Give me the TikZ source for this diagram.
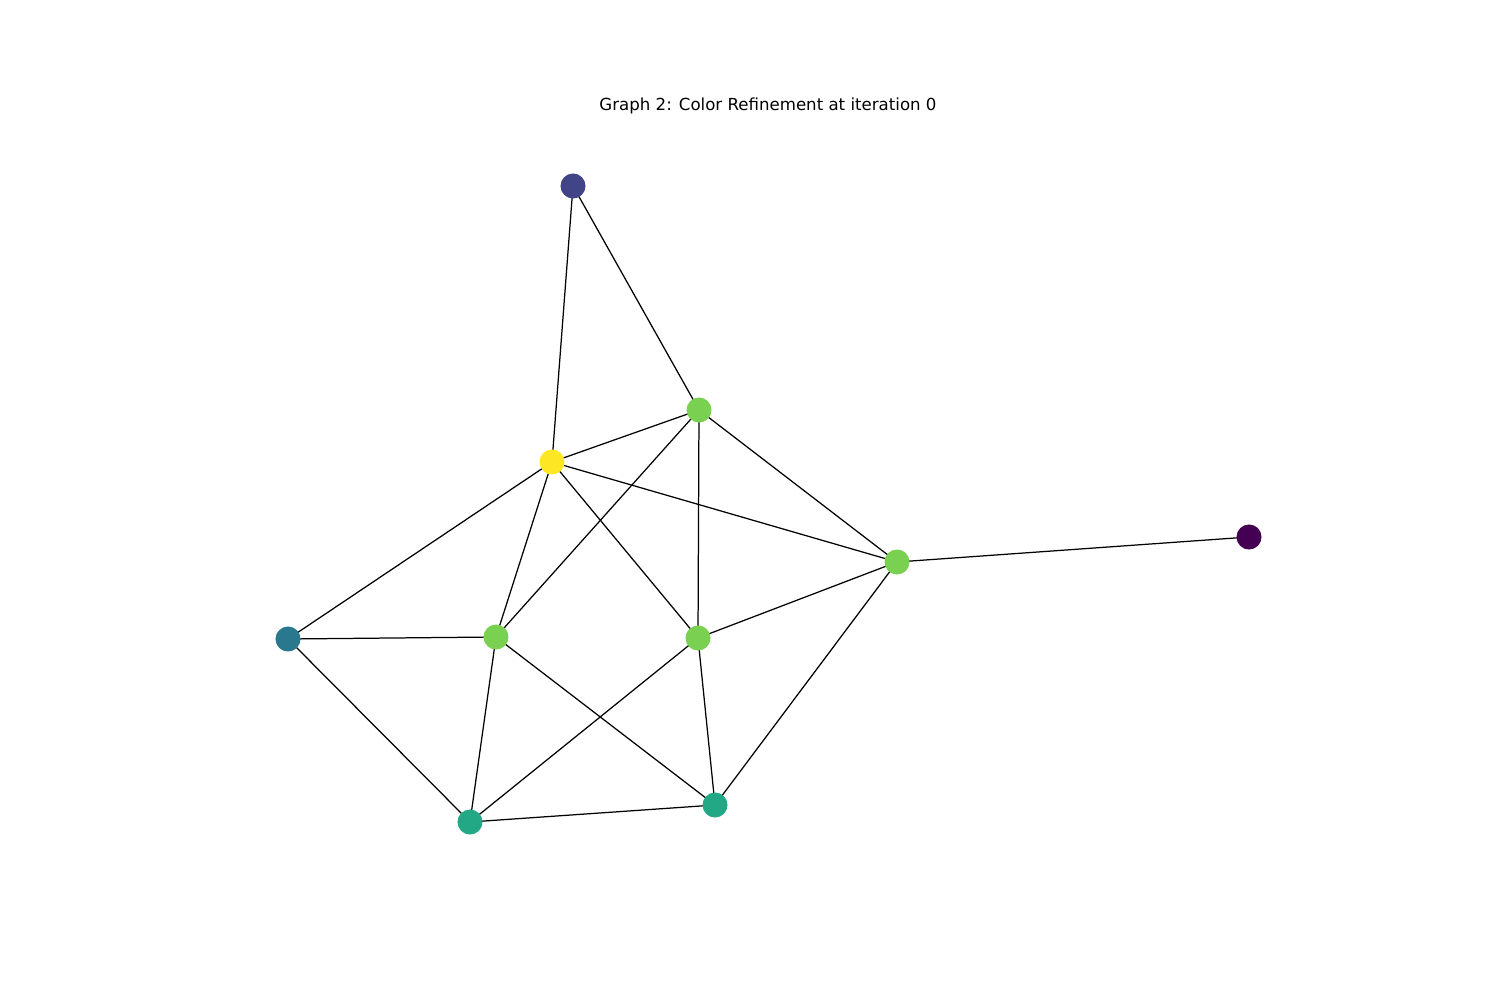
\documentclass[tikz,border=0pt]{standalone}
\usepackage{fontspec}
\setmainfont{DejaVu Sans}
\usepackage{tikz}
\usetikzlibrary{positioning, backgrounds}
\definecolor{vpurple}{HTML}{440154}
\definecolor{vindigo}{HTML}{414487}
\definecolor{vteal}{HTML}{2A788E}
\definecolor{vgreen}{HTML}{22A884}
\definecolor{vlime}{HTML}{7AD151}
\definecolor{vyellow}{HTML}{FDE725}

\begin{document}
\begin{tikzpicture}[x=0.01in, y=-0.01in,
    vtx/.style={circle, inner sep=0pt, minimum size=0.25in, draw=none},
    edge/.style={black, line width=0.9pt}]
  % Canvas
  \useasboundingbox (0,0) rectangle (1500,1000);

  % Title
  \node[font=\fontsize{12}{12}\selectfont] (title) at (768,106) {Graph 2: Color Refinement at iteration 0};

  % Vertices
  \node[vtx, fill=vindigo] (top) at (573,186) {};
  \node[vtx, fill=vlime] (upper) at (699,410) {};
  \node[vtx, fill=vyellow] (hub) at (552,462) {};
  \node[vtx, fill=vlime] (right) at (897,562) {};
  \node[vtx, fill=vpurple] (leaf) at (1249,537) {};
  \node[vtx, fill=vteal] (left) at (288,639) {};
  \node[vtx, fill=vlime] (midl) at (496,637) {};
  \node[vtx, fill=vlime] (midr) at (698,638) {};
  \node[vtx, fill=vgreen] (botl) at (470,822) {};
  \node[vtx, fill=vgreen] (botr) at (715,805) {};

  % Edges, kept behind the vertices
  \begin{scope}[on background layer]
  \foreach \a/\b in {top/hub, top/upper, hub/upper, hub/right, hub/left, hub/midl, hub/midr,
                     upper/right, upper/midr, upper/midl, right/leaf, right/midr, right/botr,
                     left/midl, left/botl, midl/botl, midl/botr, midr/botl, midr/botr, botl/botr} {
    \draw[edge] (\a.center) -- (\b.center);
  }
  \end{scope}
\end{tikzpicture}
\end{document}
